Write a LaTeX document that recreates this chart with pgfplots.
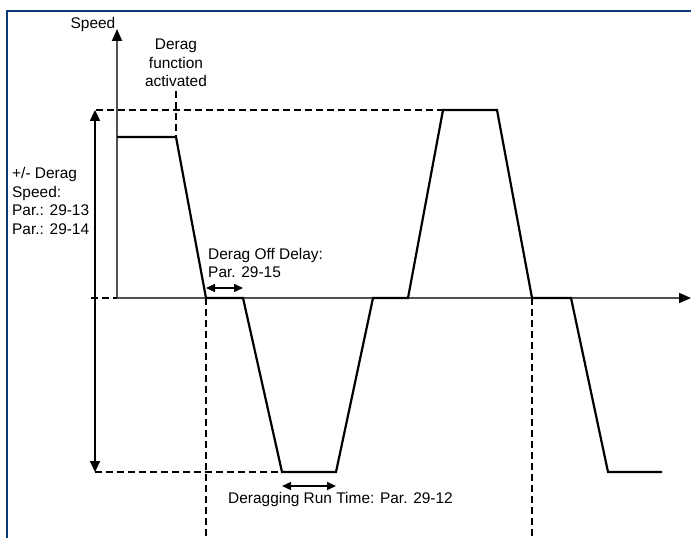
\documentclass[border=0pt]{standalone}
\usepackage{pgfplots}
\pgfplotsset{compat=1.18}
\usetikzlibrary{arrows.meta}
\usepackage{fontspec}
\setmainfont{Liberation Sans}
\definecolor{framec}{HTML}{0B3A73}
\definecolor{axc}{HTML}{505050}
\begin{document}
\begin{tikzpicture}[x=1bp,y=1bp]
\path[use as bounding box] (0,0) rectangle (691,538);
\begin{axis}[
  at={(0,0)}, anchor=south west,
  scale only axis, width=691bp, height=538bp,
  xmin=0, xmax=691, ymin=0, ymax=538, y dir=reverse,
  hide axis, clip=false,
  every axis plot/.append style={line join=miter},
]
% frame
\addplot[framec, line width=2.6bp, line join=miter] coordinates {(7,560) (7,11) (720,11)};
% axes
\addplot[axc, line width=1.8bp, -{Triangle[length=12bp,width=10bp,color=black]}] coordinates {(117,298) (117,29)};
\addplot[axc, line width=1.8bp, -{Triangle[length=12bp,width=10bp,color=black]}] coordinates {(117,298) (691,298)};
% dashed guides
\addplot[black, line width=1.3bp, dash pattern=on 7bp off 4bp] coordinates {(96,110) (443,110)};
\addplot[black, line width=1.3bp, dash pattern=on 7bp off 4bp] coordinates {(95,472) (282,472)};
\addplot[black, line width=1.3bp, dash pattern=on 7bp off 4bp] coordinates {(91,298) (117,298)};
\addplot[black, line width=1.3bp, dash pattern=on 7bp off 4bp] coordinates {(176,91) (176,137)};
\addplot[black, line width=1.3bp, dash pattern=on 7bp off 4bp] coordinates {(206,298) (206,560)};
\addplot[black, line width=1.3bp, dash pattern=on 7bp off 4bp] coordinates {(532,298) (532,560)};
% speed profile
\addplot[black, line width=2.2bp] coordinates {
 (117,137) (176,137) (206,298) (243,298) (282,472) (336,472)
 (373,298) (408,298) (443,110) (497,110) (532,298) (571,298)
 (608,472) (662,472)};
% dimension arrows
\addplot[black, line width=2.2bp, {Triangle[length=11bp,width=10bp]}-{Triangle[length=11bp,width=10bp]}] coordinates {(95,110) (95,472)};
\addplot[black, line width=1.5bp, {Triangle[length=9bp,width=8bp]}-{Triangle[length=9bp,width=8bp]}] coordinates {(206,288) (243,288)};
\addplot[black, line width=1.5bp, {Triangle[length=9bp,width=8bp]}-{Triangle[length=9bp,width=8bp]}] coordinates {(282,486) (336,486)};
% texts
\node[font=\fontsize{15.5}{19}\selectfont, inner sep=0pt] at (axis cs:93,25) {Speed};
\node[font=\fontsize{15.5}{18.7}\selectfont, inner sep=0pt, align=center] at (axis cs:176,63) {Derag\\function\\activated};
\node[font=\fontsize{15.5}{18.7}\selectfont, inner sep=0pt, align=left, anchor=west] at (axis cs:12,201) {+/- Derag\\Speed:\\Par.: 29-13\\Par.: 29-14};
\node[font=\fontsize{15.5}{18}\selectfont, inner sep=0pt, align=left, anchor=west] at (axis cs:208,263) {Derag Off Delay:\\Par. 29-15};
\node[font=\fontsize{15.5}{19}\selectfont, inner sep=0pt, anchor=west] at (axis cs:228,500) {Deragging Run Time: Par. 29-12};
\end{axis}
\end{tikzpicture}
\end{document}
